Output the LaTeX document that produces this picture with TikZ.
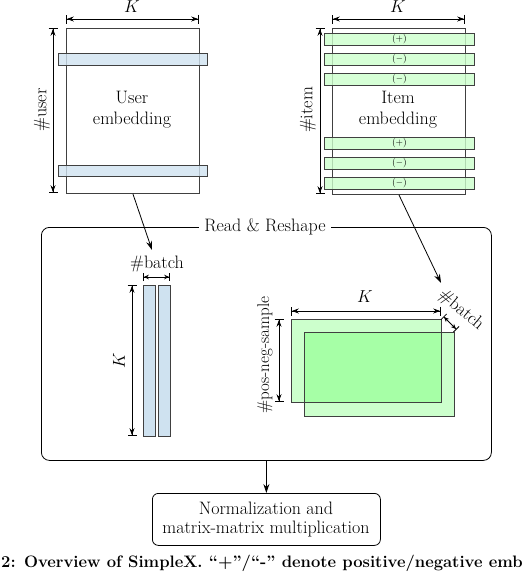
\documentclass[tikz,border=0pt]{standalone}
\usetikzlibrary{arrows.meta}
\definecolor{ublue}{HTML}{CFE2F0}
\definecolor{igreen}{HTML}{CCFFCC}
\definecolor{dgreen}{HTML}{A6FFA6}
\definecolor{edge}{HTML}{404040}
\tikzset{
  txt/.style={font=\fontsize{18}{21}\selectfont, inner sep=0pt, align=center},
  matbox/.style={draw=edge, line width=0.8pt, inner sep=0pt, anchor=north west},
  ubar/.style={draw=edge, line width=0.8pt, fill=ublue, fill opacity=0.8, text opacity=1, inner sep=0pt, anchor=north west, minimum width=149pt, minimum height=11.5pt},
  gbar/.style={draw=edge, line width=0.8pt, fill=igreen, fill opacity=0.8, text opacity=1, inner sep=0pt, anchor=north west, minimum width=150pt, minimum height=12pt, font=\fontsize{9.5}{10}\selectfont},
  dimline/.style={line width=0.8pt, {Bar[width=9pt,line width=0.8pt]Stealth[length=7pt,width=5pt]}-{Stealth[length=7pt,width=5pt]Bar[width=9pt,line width=0.8pt]}},
  shortdim/.style={line width=0.8pt, {Bar[width=8pt,line width=0.8pt]Stealth[length=5pt,width=4.5pt]}-{Stealth[length=5pt,width=4.5pt]Bar[width=8pt,line width=0.8pt]}},
  conn/.style={line width=0.8pt, -{Stealth[length=9pt,width=6pt]}},
  frame/.style={draw=black, line width=0.8pt, rounded corners=8pt, inner sep=0pt, anchor=north west},
}
\begin{document}
\begin{tikzpicture}[x=1pt,y=-1pt]
\useasboundingbox (0,0) rectangle (526,576);

% ---------- user embedding ----------
\node[matbox, minimum width=133pt, minimum height=165pt] (user) at (66,28) {};
\node[txt] (usertxt) at (132,110) {User\\embedding};
\node[ubar] (ub1) at (58,53) {};
\node[ubar] (ub2) at (58,164.5) {};
\coordinate (uk1) at (66,19); \coordinate (uk2) at (199,19);
\draw[dimline] (uk1) -- (uk2);
\node[txt] (ukl) at (132,7) {$K$};
\coordinate (uu1) at (53,28); \coordinate (uu2) at (53,193);
\draw[dimline] (uu1) -- (uu2);
\node[txt, rotate=90] (uul) at (42,110) {\#user};

% ---------- item embedding ----------
\node[matbox, minimum width=133pt, minimum height=166pt] (item) at (332,28) {};
\node[txt] (itemtxt) at (398,110) {Item\\embedding};
\node[gbar] (g1) at (324,32.5) {(+)};
\node[gbar] (g2) at (324,52.5) {($-$)};
\node[gbar] (g3) at (324,72.5) {($-$)};
\node[gbar] (g4) at (324,137) {(+)};
\node[gbar] (g5) at (324,157) {($-$)};
\node[gbar] (g6) at (324,177) {($-$)};
\coordinate (ik1) at (332,19); \coordinate (ik2) at (465,19);
\draw[dimline] (ik1) -- (ik2);
\node[txt] (ikl) at (398,7) {$K$};
\coordinate (ii1) at (320,28); \coordinate (ii2) at (320,194);
\draw[dimline] (ii1) -- (ii2);
\node[txt, rotate=90] (iil) at (308,110) {\#item};

% ---------- read & reshape frame ----------
\node[frame, minimum width=450pt, minimum height=233pt] (frame) at (41,227) {};
\node[txt, fill=white, inner xsep=5pt, inner ysep=2pt] (rs) at (265,227) {Read \& Reshape};

% left: batch of user vectors
\node[ubar, minimum width=12pt, minimum height=151pt, fill opacity=1] (tb1) at (143,285) {};
\node[ubar, minimum width=12pt, minimum height=151pt, fill opacity=1] (tb2) at (158,285) {};
\coordinate (bb1) at (143,277); \coordinate (bb2) at (170,277);
\draw[shortdim] (bb1) -- (bb2);
\node[txt] (bbl) at (157,264) {\#batch};
\coordinate (lk1) at (132,285); \coordinate (lk2) at (132,436);
\draw[dimline] (lk1) -- (lk2);
\node[txt, rotate=90] (lkl) at (119,361) {$K$};

% right: batch of item matrices
\fill[igreen] (291,319) rectangle (441,402);
\fill[igreen] (304,332) rectangle (454,416);
\fill[dgreen] (304,332) rectangle (441,402);
\node[matbox, minimum width=150pt, minimum height=83pt] (back) at (291,319) {};
\node[matbox, minimum width=150pt, minimum height=84pt] (front) at (304,332) {};
\coordinate (rk1) at (291,311); \coordinate (rk2) at (441,311);
\draw[dimline] (rk1) -- (rk2);
\node[txt] (rkl) at (365,297) {$K$};
\coordinate (rp1) at (279,319); \coordinate (rp2) at (279,402);
\draw[dimline] (rp1) -- (rp2);
\node[txt, font=\fontsize{17}{18}\selectfont, rotate=90] (rpl) at (265,355) {\#pos-neg-sample};
\coordinate (rb1) at (443.5,316.5); \coordinate (rb2) at (456.5,329.5);
\draw[shortdim] (rb1) -- (rb2);
\node[txt, rotate=-40] (rbl) at (461,310) {\#batch};

% ---------- connectors ----------
\coordinate (ua) at (152,250);
\coordinate (ia) at (441,283);
\draw[conn] (user.south) -- (ua);
\draw[conn] (item.south) -- (ia);

% ---------- bottom box ----------
\node[draw=black, line width=0.8pt, rounded corners=6pt, minimum width=228pt, minimum height=52pt, inner sep=0pt, anchor=north west] (norm) at (152,493) {};
\node[txt, font=\fontsize{18}{19}\selectfont] (normtxt) at (266,520) {Normalization and\\matrix-matrix multiplication};
\draw[conn] (frame.south -| norm.north) -- (norm.north);

% ---------- caption (cropped) ----------
\node[font=\bfseries\fontsize{16.6}{20}\selectfont, inner sep=0pt, anchor=base west] (cap) at (1,567) {2: Overview of SimpleX. ``+''/``-'' denote positive/negative emb};
\end{tikzpicture}
\end{document}
